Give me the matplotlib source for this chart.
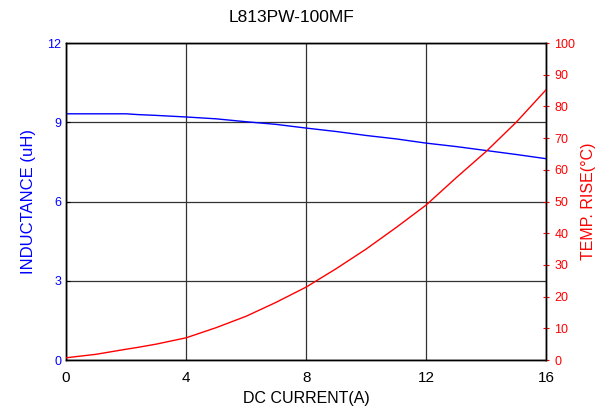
import numpy as np
import matplotlib
matplotlib.use('Agg')
import matplotlib.pyplot as plt

plt.rcParams['font.family'] = ['Liberation Sans', 'DejaVu Sans']

# DC current (A)
current = [0, 1, 2, 2.4, 3, 4, 5, 6, 7, 8, 9, 10, 11, 12, 13, 14, 15, 16]
# inductance (uH)
inductance = [9.32, 9.32, 9.32, 9.29, 9.26, 9.20, 9.13, 9.02, 8.92, 8.78, 8.65,
              8.50, 8.37, 8.21, 8.08, 7.93, 7.78, 7.62]
# temperature rise (degC)
temp_rise = [0.7, 1.8, 3.4, 4.0, 5.0, 7.0, 10.2, 13.8, 18.2, 23.0, 28.8,
             35.0, 41.8, 48.9, 57.5, 65.8, 75.0, 85.3]

fig = plt.figure(figsize=(5.95, 4.16), dpi=100)
ax = fig.add_axes([0.111, 0.1346, 0.807, 0.762])

ax.plot(current, inductance, color='blue', linewidth=1.0, zorder=3)
ax.set_xlim(0, 16)
ax.set_ylim(0, 12)
ax.set_xticks([0, 4, 8, 12, 16])
ax.set_yticks([0, 3, 6, 9, 12])
ax.grid(True, color='#333333', linewidth=0.9)
ax.tick_params(axis='y', colors='blue', direction='in', length=3, labelsize=9)
ax.tick_params(axis='y', color='black')
ax.tick_params(axis='x', direction='in', length=0, labelsize=11, pad=8)
ax.set_ylabel('INDUCTANCE (uH)', color='blue', fontsize=12, labelpad=8)
ax.set_xlabel('DC CURRENT(A)', fontsize=11.5, labelpad=4)
fig.suptitle('L813PW-100MF', x=0.49, y=0.975, fontsize=12.5)

ax2 = ax.twinx()
ax2.plot(current, temp_rise, color='red', linewidth=1.0, zorder=3)
ax2.set_ylim(0, 100)
ax2.set_yticks(np.arange(0, 101, 10))
ax2.tick_params(axis='y', colors='red', direction='inout', length=5, labelsize=9)
ax2.set_ylabel('TEMP. RISE(\u00b0C)', color='red', fontsize=11.5, labelpad=4)

for sp in list(ax.spines.values()) + list(ax2.spines.values()):
    sp.set_color('black')
    sp.set_linewidth(1.0)

fig.savefig('out.png', dpi=100)
